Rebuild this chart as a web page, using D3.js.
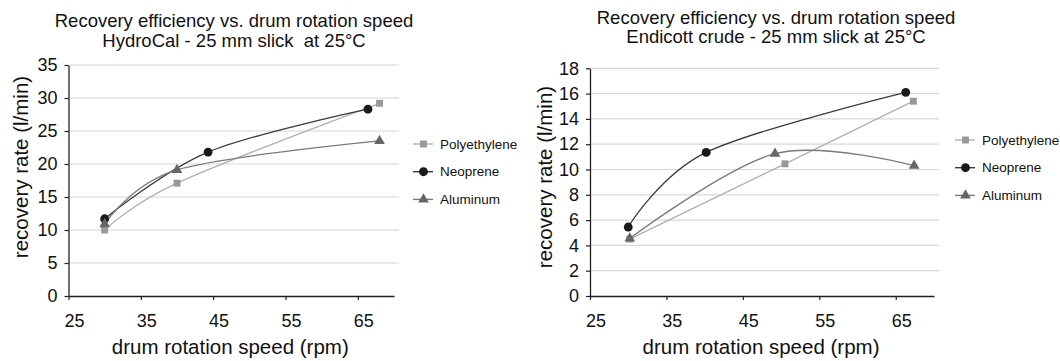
<!DOCTYPE html>
<html><head><meta charset="utf-8">
<script src="https://cdn.jsdelivr.net/npm/d3@7"></script>
<style>
html,body{margin:0;padding:0;background:#fff;}
text{font-family:"Liberation Sans",Arial,sans-serif;fill:#111;}
</style></head>
<body><svg id="c" width="1060" height="361"></svg>
<script>
// ---- data ----
const seriesNames = ["Polyethylene", "Neoprene", "Aluminum"];
const xTicks = [25, 35, 45, 55, 65];

// Chart 1: HydroCal
const hydroPolyX = [30, 40, 68];
const hydroPolyY = [10.0, 17.1, 29.2];
const hydroNeoX = [30, 44.3, 66.4];
const hydroNeoY = [11.7, 21.8, 28.3];
const hydroAlX = [30, 40, 68];
const hydroAlY = [10.9, 19.1, 23.5];
const hydroYTicks = [0, 5, 10, 15, 20, 25, 30, 35];

// Chart 2: Endicott crude
const endiPolyX = [30.2, 50.5, 67.3];
const endiPolyY = [4.5, 10.45, 15.4];
const endiNeoX = [30, 40.2, 66.3];
const endiNeoY = [5.45, 11.35, 16.1];
const endiAlX = [30.2, 49.2, 67.4];
const endiAlY = [4.55, 11.25, 10.3];
const endiYTicks = [0, 2, 4, 6, 8, 10, 12, 14, 16, 18];

const titles1 = ["Recovery efficiency vs. drum rotation speed", "HydroCal - 25 mm slick  at 25°C"];
const titles2 = ["Recovery efficiency vs. drum rotation speed", "Endicott crude - 25 mm slick at 25°C"];

// ---- styles ----
const style = {
  Polyethylene: {line:"#b0b0b0", fill:"#999999", shape:d3.symbolSquare, size:48},
  Neoprene: {line:"#3a3a3a", fill:"#1a1a1a", shape:d3.symbolCircle, size:62},
  Aluminum: {line:"#7a7a7a", fill:"#666666", shape:d3.symbolTriangle, size:50}
};

const svg = d3.select("#c");

function panel(cfg) {
  const x = d3.scaleLinear().domain([25, 70]).range([cfg.x0, cfg.x1]);
  const y = d3.scaleLinear().domain([0, cfg.yMax]).range([cfg.y0, cfg.y1]);
  const g = svg.append("g");

  // grid
  g.selectAll("line.grid").data(cfg.yTicks.filter(d => d > 0)).join("line")
    .attr("x1", cfg.x0).attr("x2", cfg.x1 + 5)
    .attr("y1", d => y(d)).attr("y2", d => y(d))
    .attr("stroke", "#d8d8d8").attr("stroke-width", 1.2);

  // axes
  const ya = g.append("g").attr("transform", `translate(${cfg.x0},0)`)
    .call(d3.axisLeft(y).tickValues(cfg.yTicks).tickSize(4).tickPadding(7).tickSizeOuter(0));
  const xa = g.append("g").attr("transform", `translate(0,${cfg.y0})`)
    .call(d3.axisBottom(x).tickValues(xTicks).tickSize(4).tickPadding(14).tickSizeOuter(0));
  [ya, xa].forEach(a => {
    a.select(".domain").attr("stroke", "#222").attr("stroke-width", 1.3);
    a.selectAll(".tick line").attr("stroke", "#222").attr("stroke-width", 1.2);
    a.selectAll(".tick text").attr("font-size", 18).attr("fill", "#111")
      .attr("font-family", '"Liberation Sans",Arial,sans-serif');
  });
  xa.selectAll(".tick text").attr("dx", "0.3em");

  // lines and markers
  cfg.series.forEach(s => {
    const st = style[s.name];
    const pts = s.xs.map((v, i) => [x(v), y(s.ys[i])]);
    g.append("path").attr("d", d3.line().curve(d3.curveCardinal.tension(0))(pts))
      .attr("fill", "none").attr("stroke", st.line).attr("stroke-width", 1.3);
  });
  cfg.series.forEach(s => {
    const st = style[s.name];
    g.selectAll(null).data(s.xs.map((v, i) => [x(v), y(s.ys[i])])).join("path")
      .attr("transform", d => `translate(${d[0]},${d[1]})`)
      .attr("d", d3.symbol().type(st.shape).size(st.size))
      .attr("fill", st.fill);
  });

  // titles
  cfg.titles.forEach((t, i) => {
    g.append("text").attr("x", cfg.tx).attr("y", cfg.ty + i * 19.5)
      .attr("text-anchor", "middle").attr("font-size", 18.5)
      .attr("xml:space", "preserve").style("white-space", "pre").text(t);
  });
  // axis titles
  g.append("text").attr("x", (cfg.x0 + cfg.x1) / 2 - 1).attr("y", 354)
    .attr("text-anchor", "middle").attr("font-size", 20.5).text("drum rotation speed (rpm)");
  g.append("text").attr("transform", `translate(${cfg.ylx},${cfg.yly}) rotate(-90)`)
    .attr("text-anchor", "middle").attr("font-size", 20.5).text("recovery rate (l/min)");

  // legend
  seriesNames.forEach((n, i) => {
    const st = style[n];
    const ly = cfg.ly + i * 27.7;
    g.append("line").attr("x1", cfg.lx).attr("x2", cfg.lx + 20).attr("y1", ly).attr("y2", ly)
      .attr("stroke", st.line).attr("stroke-width", 1.4);
    g.append("path").attr("transform", `translate(${cfg.lx + 10.5},${ly})`)
      .attr("d", d3.symbol().type(st.shape).size(st.size)).attr("fill", st.fill);
    g.append("text").attr("x", cfg.lx + 27).attr("y", ly).attr("dy", "0.35em")
      .attr("font-size", 13.5).text(n);
  });
}

panel({
  x0: 68.5, x1: 394, y0: 296, y1: 65, yMax: 35, yTicks: hydroYTicks,
  series: [
    {name: "Polyethylene", xs: hydroPolyX, ys: hydroPolyY},
    {name: "Neoprene", xs: hydroNeoX, ys: hydroNeoY},
    {name: "Aluminum", xs: hydroAlX, ys: hydroAlY}
  ],
  titles: titles1, tx: 234, ty: 27,
  ylx: 28, yly: 167, lx: 413, ly: 144
});
panel({
  x0: 590, x1: 934, y0: 296, y1: 68.3, yMax: 18, yTicks: endiYTicks,
  series: [
    {name: "Polyethylene", xs: endiPolyX, ys: endiPolyY},
    {name: "Neoprene", xs: endiNeoX, ys: endiNeoY},
    {name: "Aluminum", xs: endiAlX, ys: endiAlY}
  ],
  titles: titles2, tx: 776, ty: 23.5,
  ylx: 552, yly: 177, lx: 955, ly: 140
});
</script></body></html>
